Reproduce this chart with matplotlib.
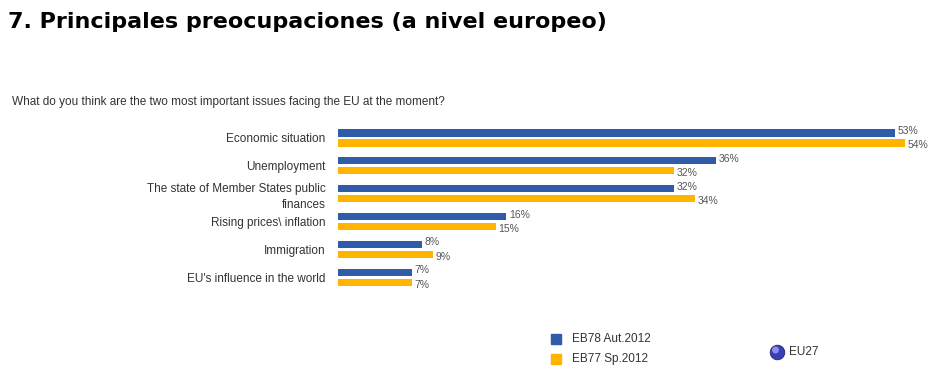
import matplotlib

matplotlib.use('Agg')
from matplotlib import pyplot as plt
import numpy as np

# Data
categories = ["Economic situation", "Unemployment",
              "The state of Member States public\nfinances",
              "Rising prices\\ inflation", "Immigration",
              "EU's influence in the world"]
eb78_aut2012 = [53, 36, 32, 16, 8, 7]
eb77_sp2012 = [54, 32, 34, 15, 9, 7]
series_names = ["EB78 Aut.2012", "EB77 Sp.2012"]

BLUE = "#2F5BA8"
ORANGE = "#FFB400"
W, H = 950, 383

fig = plt.figure(figsize=(9.5, 3.83), dpi=100)
plt.rcParams['font.family'] = ['Liberation Sans', 'DejaVu Sans']

# axes placed in pixel coords of the reference
left, right, top, bottom = 338, 947, 124, 291.4
ax = fig.add_axes([left / W, 1 - bottom / H, (right - left) / W, (bottom - top) / H])

y = np.arange(len(categories))
off = 0.18
bh = 0.26
ax.barh(y - off, eb78_aut2012, height=bh, color=BLUE)
ax.barh(y + off, eb77_sp2012, height=bh, color=ORANGE)

for yi, v in zip(y, eb78_aut2012):
    ax.annotate("{}%".format(v), (v, yi - off), xytext=(2, 1.5), textcoords="offset points",
                fontsize=7.5, color="#555555", va="center", ha="left")
for yi, v in zip(y, eb77_sp2012):
    ax.annotate("{}%".format(v), (v, yi + off), xytext=(2, -1.5), textcoords="offset points",
                fontsize=7.5, color="#555555", va="center", ha="left")

ax.set_xlim(0, 58)
ax.set_ylim(len(categories) - 0.5, -0.5)
ax.set_yticks(y)
ax.set_yticklabels(categories, fontsize=8.5, color="#333333", linespacing=1.4)
ax.tick_params(axis='y', length=0, pad=9)
ax.set_xticks([])
for s in ax.spines.values():
    s.set_visible(False)

# Title and question
fig.text(8 / W, 1 - 22 / H, "7. Principales preocupaciones (a nivel europeo)",
         fontsize=16, fontweight="bold", family="DejaVu Sans", va="center", ha="left")
fig.text(12 / W, 1 - 102 / H, "What do you think are the two most important issues facing the EU at the moment?",
         fontsize=8.5, color="#333333", va="center", ha="left")

# Legend
lax = fig.add_axes([0, 0, 1, 1], facecolor="none")
lax.set_xlim(0, W)
lax.set_ylim(H, 0)
lax.axis("off")
for i, (name, c) in enumerate(zip(series_names, [BLUE, ORANGE])):
    yy = 339 + i * 20
    lax.add_patch(plt.Rectangle((551, yy - 5), 10, 10, color=c))
    lax.text(572, yy, name, fontsize=8.5, color="#333333", va="center", ha="left")
lax.scatter([777], [352], s=110, color="#3A3FB5", edgecolors="#20246E", linewidths=0.6)
lax.scatter([775.5], [350], s=25, color="#8C90E8", edgecolors="none")
lax.text(789, 352, "EU27", fontsize=8.5, color="#333333", va="center", ha="left")

plt.savefig("out.png", dpi=100)
